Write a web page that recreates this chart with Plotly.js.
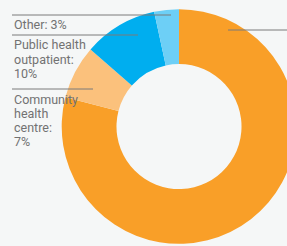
<!DOCTYPE html>
<html><head><meta charset="utf-8">
<script src="https://cdn.plot.ly/plotly-3.0.1.min.js"></script>
<style>html,body{margin:0;padding:0;overflow:hidden;background:#f5f7f7;}#chart{width:300px;height:246px;}</style>
</head><body><div id="chart"></div>
<script>
// Data
const categories = ["", "Community health centre", "Public health outpatient", "Other"];
const values = [79.0, 7.4, 10.2, 3.4];
const colors = ["#f99f28", "#fbc17c", "#00aeef", "#6dcff6"];
// Displayed label lines (wrapped as in the reference)
const labelLines = [
  [],
  ["Community", "health", "centre:", "7%"],
  ["Public health", "outpatient:", "10%"],
  ["Other: 3%"]
];

const W = 300, H = 246;
const px = x => x / W, py = y => 1 - y / H;

// label geometry (pixels)
const labelX = 11.5;
const leaderY = [30, 89, 35, 15];
const leaderX0 = [228, 12, 12, 12];
const leaderX1 = [300, 93, 138, 171];
const lineStep = 14;

const shapes = [];
const annotations = [];
for (let i = 0; i < categories.length; i++) {
  shapes.push({type: "line", xref: "paper", yref: "paper",
    x0: px(leaderX0[i]), x1: px(leaderX1[i]), y0: py(leaderY[i]), y1: py(leaderY[i]),
    line: {color: "#7a7a7a", width: 1}});
  labelLines[i].forEach((t, k) => {
    annotations.push({xref: "paper", yref: "paper", x: px(labelX), y: py(leaderY[i] + 10 + k * lineStep),
      xanchor: "left", yanchor: "middle", showarrow: false, text: t,
      font: {family: "Roboto, sans-serif", size: 12.5, color: "#727272"}});
  });
}

const cx = 179, cy = 126.5, R = 117.3;
const data = [{
  type: "pie", labels: categories, values: values, sort: false, direction: "clockwise", rotation: 0,
  hole: 0.533, marker: {colors: colors, line: {width: 0}}, textinfo: "none", hoverinfo: "none",
  domain: {x: [px(cx - R), px(cx + R)], y: [(H - cy - R) / H, (H - cy + R) / H]}
}];
const layout = {
  width: W, height: H, margin: {l: 0, r: 0, t: 0, b: 0},
  paper_bgcolor: "#f5f7f7", plot_bgcolor: "#f5f7f7", showlegend: false,
  shapes: shapes, annotations: annotations
};
Plotly.newPlot("chart", data, layout, {staticPlot: true, displayModeBar: false});
</script>
</body></html>
